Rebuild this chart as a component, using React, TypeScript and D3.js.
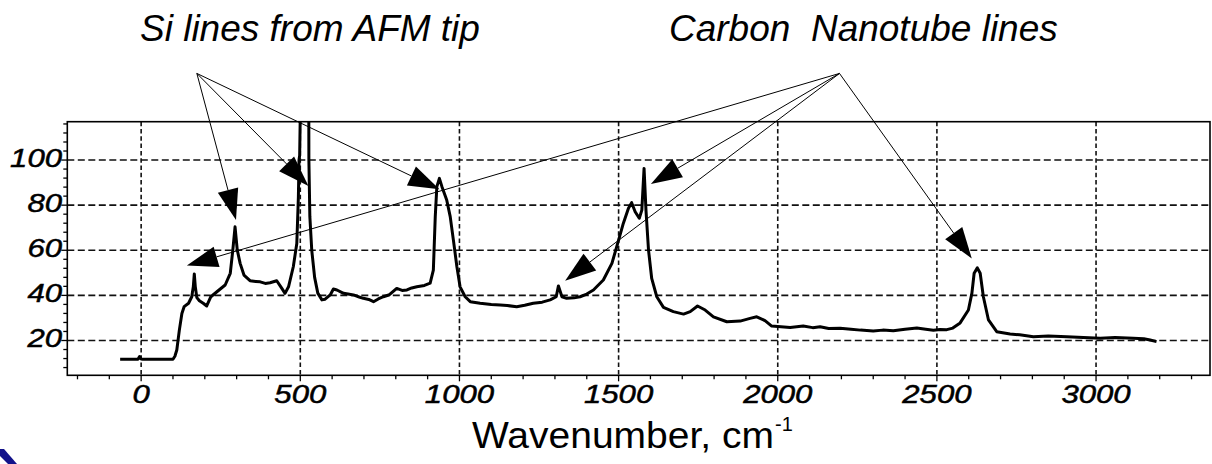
import React from "react";
import * as d3 from "d3";

// ---- Data ----
const wavenumber = [
  -66, -10, -5, 0, 5, 100, 106, 112, 120, 128, 135, 149, 159, 164, 167, 170, 175, 183, 195, 206,
  219, 238, 264, 280, 288, 295, 302, 311, 323, 342, 360, 374, 390, 405, 426, 442, 452, 463, 478,
  489, 494, 496, 498, 502, 510, 520, 525, 527, 530, 536, 545, 555, 568, 578, 594, 604, 615, 636,
  650, 667, 685, 698, 715, 730, 745, 761, 780, 803, 820, 835, 850, 866, 890, 908, 918, 924, 929,
  937, 945, 960, 971, 981, 992, 1002, 1018, 1034, 1065, 1100, 1128, 1150, 1180, 1205, 1232, 1260,
  1285, 1304, 1311, 1322, 1337, 1360, 1379, 1400, 1421, 1452, 1479, 1500, 1515, 1531, 1541, 1552,
  1565, 1573, 1580, 1586, 1594, 1604, 1620, 1641, 1672, 1704, 1725, 1748, 1772, 1798, 1840, 1882,
  1913, 1934, 1960, 1981, 2039, 2080, 2110, 2133, 2160, 2196, 2230, 2260, 2300, 2330, 2363, 2400,
  2437, 2465, 2489, 2510, 2531, 2550, 2573, 2599, 2610, 2617, 2627, 2636, 2646, 2662, 2688, 2730,
  2760, 2803, 2850, 2908, 2960, 3013, 3060, 3117, 3150, 3170, 3190,
];
const intensity = [
  11.7, 11.7, 12.9, 11.8, 11.7, 11.7, 13, 15.8, 24.6, 32, 35, 36.5, 39.4, 44, 49.5, 44, 39, 37.6,
  36.5, 35.3, 39.4, 41.6, 44.6, 49.8, 60.1, 70.4, 60.1, 54.2, 49, 46.5, 46.2, 46, 45.3, 45.6, 46.5,
  43.1, 40.9, 43.8, 52.7, 63, 83.7, 100, 102, 140, 250, 300, 250, 100, 75, 60, 48, 41, 38, 38.3,
  40.2, 42.8, 42.4, 40.9, 40.6, 40.2, 39.3, 38.7, 38.2, 37.2, 38.4, 39.4, 40.3, 43.1, 42.2, 42.4,
  43.3, 43.8, 44.4, 45.4, 51.2, 74.9, 88.2, 91.9, 88.2, 82.3, 74.9, 64.5, 52.7, 43.8, 39.4, 37.2,
  36.5, 36, 35.7, 35.5, 35, 35.6, 36.5, 37, 38, 39.4, 44.2, 39.4, 38.7, 38.9, 39.4, 40.6, 42.4,
  46.8, 54.2, 64.5, 72, 78.6, 81.1, 77.1, 74.2, 77.8, 96.3, 77.8, 60.1, 47.5, 39.4, 34.7, 32.8,
  31.7, 32.8, 35.3, 33.5, 30.5, 28.3, 28.6, 29.8, 30.5, 28.8, 26.4, 25.8, 26.4, 25.7, 26.1, 25.3,
  25.4, 25, 24.6, 24.2, 24.6, 24.3, 25, 25.5, 25, 24.5, 24.9, 24.8, 25.5, 27.8, 33.5, 41, 49.8,
  52.2, 49.8, 39.4, 29.1, 23.9, 22.9, 22.5, 21.7, 22, 21.7, 21.3, 21, 21.3, 21, 20.8, 20.2, 19.5,
];

const xTickLabels = [0, 500, 1000, 1500, 2000, 2500, 3000];
const yTickLabels = [20, 40, 60, 80, 100];

const siTitle = "Si lines from AFM tip";
const cntTitle = "Carbon  Nanotube lines";
const siApex: [number, number] = [175, 138.4];
const siTargets: [number, number][] = [
  [298, 73.4],
  [525.6, 88.5],
  [937, 87],
];
const cntApex: [number, number] = [2194, 138.4];
const cntTargets: [number, number][] = [
  [143.6, 53.2],
  [1332, 46.5],
  [1601.5, 89.4],
  [2609.5, 56.4],
];

const W = 1212;
const H = 464;
const FONT = "'Liberation Sans', Arial, Helvetica, sans-serif";
const DIGIT_W = 17.3;

export default function App() {
  const x = d3.scaleLinear().domain([-232, 3358]).range([67.3, 1210]);
  const y = d3.scaleLinear().domain([4.57, 117]).range([375.3, 121.7]);
  const [x0, x1] = x.range();
  const [yb, yt] = y.range();

  const pts = wavenumber.map((w, i) => [w, intensity[i]] as [number, number]);
  const line = d3
    .line<[number, number]>()
    .x((d) => x(d[0]))
    .y((d) => y(d[1]));

  const xMinor = d3.range(-200, 3301, 100).filter((v) => v % 500 !== 0);
  const yMinor = d3.range(8, 117, 4).filter((v) => v % 20 !== 0);

  const arrow = (apex: [number, number], tgt: [number, number], key: string) => {
    const ax = x(apex[0]);
    const ay = y(apex[1]);
    const tx = x(tgt[0]);
    const ty = y(tgt[1]);
    const dx = tx - ax;
    const dy = ty - ay;
    const len = Math.hypot(dx, dy);
    const ux = dx / len;
    const uy = dy / len;
    const L = 31;
    const hw = 10.5;
    const bx = tx - ux * L;
    const by = ty - uy * L;
    const p1 = [bx - uy * hw, by + ux * hw];
    const p2 = [bx + uy * hw, by - ux * hw];
    return (
      <g key={key}>
        <line x1={ax} y1={ay} x2={bx} y2={by} stroke="#000" strokeWidth={1} />
        <polygon points={`${tx},${ty} ${p1[0]},${p1[1]} ${p2[0]},${p2[1]}`} fill="#000" />
      </g>
    );
  };

  return (
    <svg
      width={W}
      height={H}
      viewBox={`0 0 ${W} ${H}`}
      style={{ position: "absolute", left: 0, top: 0, background: "#fff", display: "block" }}
    >
      <defs>
        <clipPath id="plotClip">
          <rect x={x0} y={yt} width={x1 - x0} height={yb - yt} />
        </clipPath>
      </defs>
      <rect x={0} y={0} width={W} height={H} fill="#fff" />

      {/* grid */}
      <g stroke="#111" strokeWidth={1.6} fill="none">
        {yTickLabels.map((v) => (
          <line key={"gy" + v} x1={x0} x2={x1} y1={y(v)} y2={y(v)} strokeDasharray="7 3.5" />
        ))}
        {xTickLabels.map((v) => (
          <line key={"gx" + v} x1={x(v)} x2={x(v)} y1={yt} y2={yb} strokeDasharray="4.5 2.8" />
        ))}
      </g>

      {/* spectrum */}
      <path
        d={line(pts) || ""}
        fill="none"
        stroke="#000"
        strokeWidth={3}
        strokeLinejoin="round"
        clipPath="url(#plotClip)"
      />

      {/* frame */}
      <rect x={x0} y={yt} width={x1 - x0} height={yb - yt} fill="none" stroke="#000" strokeWidth={1.6} />

      {/* ticks */}
      <g stroke="#000" strokeWidth={1.3}>
        {xTickLabels.map((v) => (
          <line key={"xt" + v} x1={x(v)} x2={x(v)} y1={yb} y2={yb + 6} />
        ))}
        {xMinor.map((v) => (
          <line key={"xm" + v} x1={x(v)} x2={x(v)} y1={yb} y2={yb + 4} />
        ))}
        {yTickLabels.map((v) => (
          <line key={"yt" + v} x1={x0 - 6} x2={x0} y1={y(v)} y2={y(v)} />
        ))}
        {yMinor.map((v) => (
          <line key={"ym" + v} x1={x0 - 4} x2={x0} y1={y(v)} y2={y(v)} />
        ))}
      </g>

      {/* tick labels */}
      <g fontFamily={FONT} fontStyle="italic" fontSize={26} fill="#000" stroke="#000" strokeWidth={0.5}>
        {xTickLabels.map((v) => {
          const w = String(v).length * DIGIT_W;
          return (
            <text key={"xl" + v} x={x(v) - w / 2} y={403} textLength={w} lengthAdjust="spacingAndGlyphs">
              {v}
            </text>
          );
        })}
        {yTickLabels.map((v) => {
          const w = String(v).length * DIGIT_W;
          return (
            <text key={"yl" + v} x={62 - w} y={y(v) + 7} textLength={w} lengthAdjust="spacingAndGlyphs">
              {v}
            </text>
          );
        })}
      </g>

      {/* axis title */}
      <text x={472} y={448} fontFamily={FONT} fontSize={36} fill="#000">
        <tspan textLength={302} lengthAdjust="spacingAndGlyphs">
          Wavenumber, cm
        </tspan>
        <tspan fontSize={20} dx={1} dy={-17}>
          -1
        </tspan>
      </text>

      {/* annotations */}
      <g fontFamily={FONT} fontStyle="italic" fontSize={37} fill="#000">
        <text x={140} y={41}>
          {siTitle}
        </text>
        <text x={669} y={41} style={{ whiteSpace: "pre" }}>
          {cntTitle}
        </text>
      </g>
      {siTargets.map((t, i) => arrow(siApex, t, "si" + i))}
      {cntTargets.map((t, i) => arrow(cntApex, t, "c" + i))}

      {/* blue corner decoration */}
      <polygon points="0,449 4,449 17,464 8,464 0,456" fill="#12128a" />
    </svg>
  );
}
